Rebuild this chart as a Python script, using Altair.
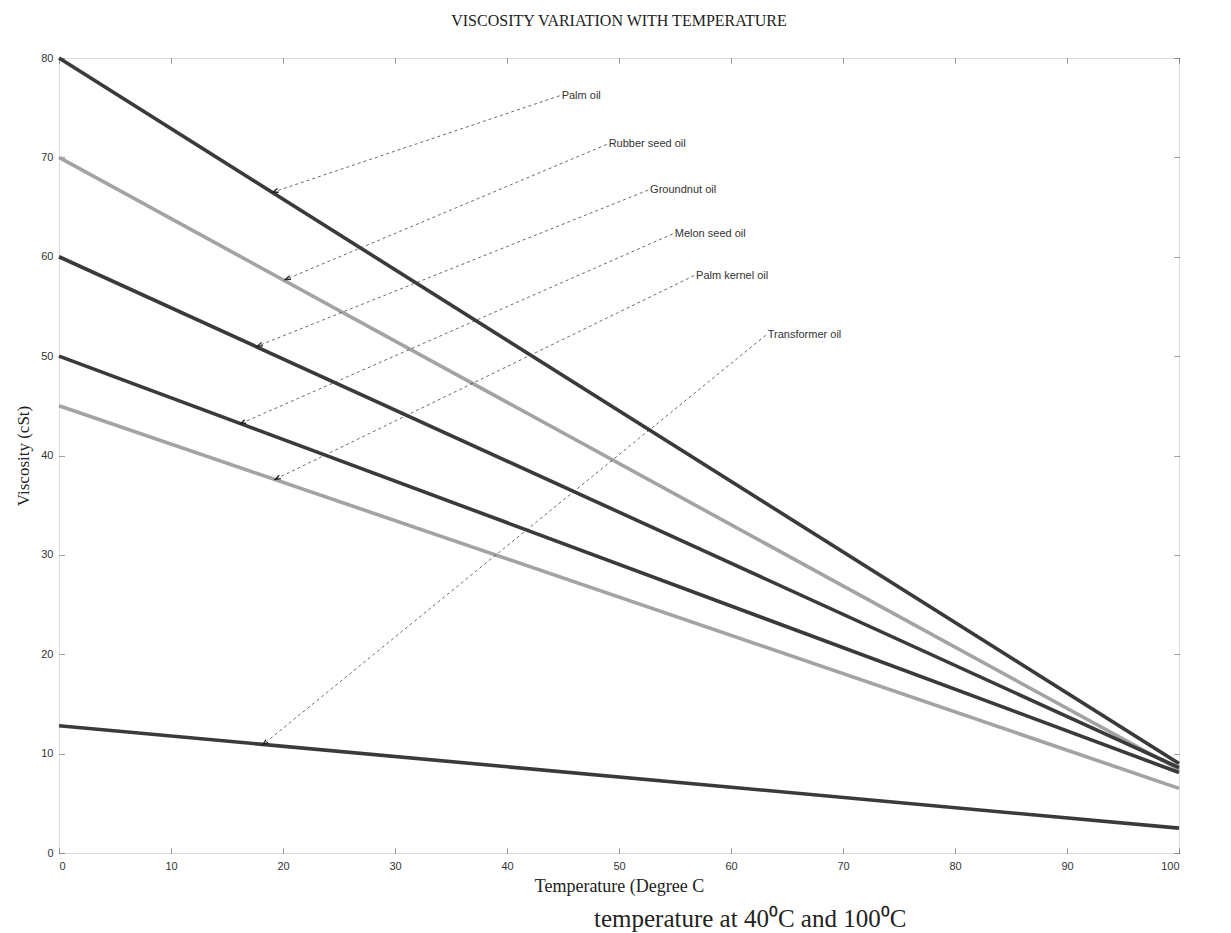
import math
import altair as alt
import pandas as pd

# Viscosity (cSt) of each oil at the two ends of the temperature range
oils = ["Palm oil", "Rubber seed oil", "Groundnut oil", "Melon seed oil",
        "Palm kernel oil", "Transformer oil"]
temps = [0, 100]
visc_at_0 = [80.0, 70.0, 60.0, 50.0, 45.0, 12.8]
visc_at_100 = [9.0, 8.4, 8.6, 8.1, 6.5, 2.5]
line_colors = ["#3a3a3a", "#a3a3a3", "#3a3a3a", "#3a3a3a", "#a3a3a3", "#3a3a3a"]

# Annotation text anchors and the points on each line their arrows touch
label_x = [44.7, 48.9, 52.6, 54.8, 56.7, 63.1]
label_y = [76.2, 71.3, 66.7, 62.3, 58.1, 52.1]
tip_x = [19.1, 20.2, 17.7, 16.2, 19.3, 18.2]
tip_y = [66.5, 57.7, 51.0, 43.2, 37.6, 10.9]

x_ticks = list(range(0, 101, 10))
y_ticks = list(range(0, 81, 10))

W, H = 1120, 795

lines = pd.DataFrame(
    [{"oil": o, "temp": temps[0], "visc": v0} for o, v0 in zip(oils, visc_at_0)]
    + [{"oil": o, "temp": temps[1], "visc": v1} for o, v1 in zip(oils, visc_at_100)]
)

# arrowhead rotation follows the leader direction on screen
sx, sy = W / 100.0, H / 80.0
angles = []
for lx, ly, tx, ty in zip(label_x, label_y, tip_x, tip_y):
    ux = (tx - lx) * sx
    uy = -(ty - ly) * sy
    angles.append(math.degrees(math.atan2(ux, -uy)) % 360)

notes = pd.DataFrame({
    "oil": oils, "lx": label_x, "ly": label_y,
    "tx": tip_x, "ty": tip_y, "ang": angles,
})

xs = alt.Scale(domain=[0, 100], nice=False, zero=False)
ys = alt.Scale(domain=[0, 80], nice=False, zero=False)

tick_style = dict(domain=False, grid=False, tickSize=5, offset=-5,
                  tickColor="#444", tickWidth=1, tickDash=[1, 1])

x_bottom = alt.Axis(values=x_ticks, title="Temperature (Degree C", labelPadding=7,
                    labelFont="Liberation Sans", labelFontSize=11, labelColor="#333",
                    titleFont="Liberation Serif", titleFontSize=18,
                    titleFontWeight="normal", titleColor="#222", titlePadding=6,
                    **tick_style)
y_left = alt.Axis(values=y_ticks, title="Viscosity (cSt)", labelPadding=6,
                  labelFont="Liberation Sans", labelFontSize=11, labelColor="#333",
                  titleFont="Liberation Serif", titleFontSize=17,
                  titleFontWeight="normal", titleColor="#222", titlePadding=8,
                  **tick_style)
x_top = alt.Axis(orient="top", values=x_ticks, labels=False, title=None, **tick_style)
y_right = alt.Axis(orient="right", values=y_ticks, labels=False, title=None, **tick_style)

base = alt.Chart(lines)

oil_lines = base.mark_line(strokeWidth=3.6).encode(
    x=alt.X("temp:Q", scale=xs, axis=x_bottom),
    y=alt.Y("visc:Q", scale=ys, axis=y_left),
    color=alt.Color("oil:N", scale=alt.Scale(domain=oils, range=line_colors), legend=None),
    detail="oil:N",
)

frame_ticks = base.mark_line(opacity=0).encode(
    x=alt.X("temp:Q", scale=xs, axis=x_top),
    y=alt.Y("visc:Q", scale=ys, axis=y_right),
    detail="oil:N",
)

note_base = alt.Chart(notes)

leaders = note_base.mark_rule(strokeDash=[3, 3], strokeWidth=0.8, color="#444").encode(
    x=alt.X("lx:Q", scale=xs, axis=None),
    y=alt.Y("ly:Q", scale=ys, axis=None),
    x2="tx:Q",
    y2="ty:Q",
)

arrowheads = note_base.mark_point(
    shape="M -0.7 2 L 0 0 L 0.7 2", filled=False, size=30,
    strokeWidth=1.3, color="#222", opacity=1,
).encode(
    x=alt.X("tx:Q", scale=xs, axis=None),
    y=alt.Y("ty:Q", scale=ys, axis=None),
    angle=alt.Angle("ang:Q", scale=None),
)

labels = note_base.mark_text(
    align="left", baseline="middle", dx=2, font="Liberation Sans",
    fontSize=11, color="#333",
).encode(
    x=alt.X("lx:Q", scale=xs, axis=None),
    y=alt.Y("ly:Q", scale=ys, axis=None),
    text="oil:N",
)

caption = alt.Chart(pd.DataFrame({"t": ["temperature at 40⁰C and 100⁰C"]})).mark_text(
    align="left", baseline="middle", font="Liberation Serif", fontSize=25, color="#222",
).encode(
    x=alt.value(535),
    y=alt.value(H + 66),
    text="t:N",
)

chart = (
    alt.layer(oil_lines, frame_ticks, leaders, arrowheads, labels, caption)
    .resolve_axis(x="independent", y="independent")
    .properties(
        width=W,
        height=H,
        padding={"left": 14, "top": 12, "right": 10, "bottom": 0},
        title=alt.TitleParams(
            "VISCOSITY VARIATION WITH TEMPERATURE",
            font="Liberation Serif", fontSize=16, fontWeight="normal",
            color="#222", offset=22,
        ),
    )
    .configure_view(stroke="#333", strokeWidth=1, strokeDash=[1, 2])
    .configure(background="white")
)

chart.save("out.html", embed_options={"renderer": "svg", "actions": False})
